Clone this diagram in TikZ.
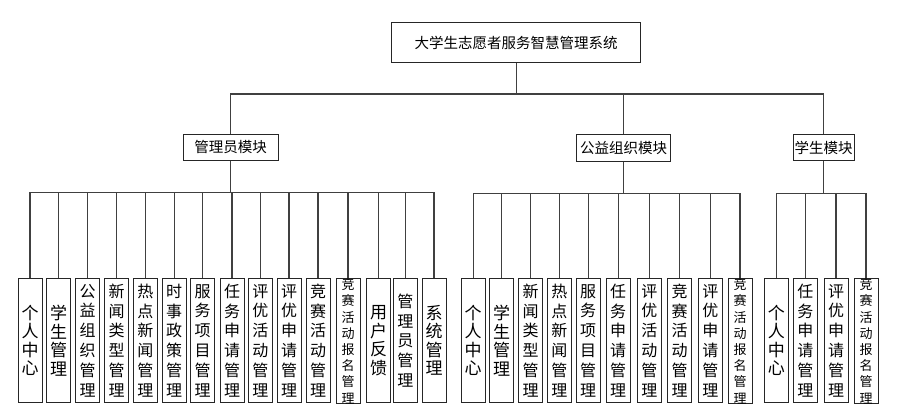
\documentclass[tikz,border=0pt]{standalone}
\usepackage{fontspec}
\setmainfont{Noto Sans CJK SC}
\begin{document}
\begin{tikzpicture}[x=1pt,y=-1pt,
  ln/.style={draw=black!75, line width=1.1pt},
  box/.style={draw=black!85, line width=0.9pt, fill=white, inner sep=0pt, align=center},
  topbox/.style={box, minimum width=249pt, minimum height=40pt, font=\fontsize{14.5}{16}\selectfont},
  modbox/.style={box, minimum height=26.3pt, font=\fontsize{14.5}{16}\selectfont},
  leaf/.style={box, anchor=north, minimum width=24pt, minimum height=123.4pt, font=\fontsize{16}{19.8}\selectfont},
  leaffour/.style={leaf, font=\fontsize{17}{18.5}\selectfont},
  leafsmall/.style={leaf, font=\fontsize{13}{16.2}\selectfont}]
\useasboundingbox (0,0) rectangle (912,415);
\fill[white] (0,0) rectangle (912,415);

% top and modules
\node[topbox] (top) at (516.2,42.7) {大学生志愿者服务智慧管理系统};
\node[modbox, minimum width=95pt] (adm) at (230.7,147.2) {管理员模块};
\node[modbox, minimum width=94pt] (pub) at (623.7,148) {公益组织模块};
\node[modbox, minimum width=60.7pt] (stu) at (823.7,147.7) {学生模块};

\coordinate (busT) at (516.2,94);
\coordinate (busA) at (230.7,192.7);
\coordinate (busP) at (623.7,193.3);
\coordinate (busS) at (823.7,193.3);

% admin leaves
\node[leaffour] (a1) at (30,278.3) {个\\人\\中\\心};
\node[leaffour] (a2) at (58.5,278.3) {学\\生\\管\\理};
\node[leaf] (a3) at (87.5,278.3) {公\\益\\组\\织\\管\\理};
\node[leaf] (a4) at (116.5,278.3) {新\\闻\\类\\型\\管\\理};
\node[leaf] (a5) at (145.3,278.3) {热\\点\\新\\闻\\管\\理};
\node[leaf] (a6) at (174.2,278.3) {时\\事\\政\\策\\管\\理};
\node[leaf] (a7) at (202.7,278.3) {服\\务\\项\\目\\管\\理};
\node[leaf] (a8) at (232,278.3) {任\\务\\申\\请\\管\\理};
\node[leaf] (a9) at (260.3,278.3) {评\\优\\活\\动\\管\\理};
\node[leaf] (a10) at (289,278.3) {评\\优\\申\\请\\管\\理};
\node[leaf] (a11) at (318,278.3) {竞\\赛\\活\\动\\管\\理};
\node[leafsmall] (a12) at (348,278.3) {竞\\赛\\活\\动\\报\\名\\管\\理};
\node[leaffour] (a13) at (378.7,278.3) {用\\户\\反\\馈};
\node[leaf] (a14) at (405.3,278.3) {管\\理\\员\\管\\理};
\node[leaffour] (a15) at (434,278.3) {系\\统\\管\\理};

% public leaves
\node[leaffour] (p1) at (473.2,278.3) {个\\人\\中\\心};
\node[leaffour] (p2) at (501.5,278.3) {学\\生\\管\\理};
\node[leaf] (p3) at (530.5,278.3) {新\\闻\\类\\型\\管\\理};
\node[leaf] (p4) at (559.3,278.3) {热\\点\\新\\闻\\管\\理};
\node[leaf] (p5) at (588.2,278.3) {服\\务\\项\\目\\管\\理};
\node[leaf] (p6) at (618.2,278.3) {任\\务\\申\\请\\管\\理};
\node[leaf] (p7) at (649.3,278.3) {评\\优\\活\\动\\管\\理};
\node[leaf] (p8) at (679.5,278.3) {竞\\赛\\活\\动\\管\\理};
\node[leaf] (p9) at (710.3,278.3) {评\\优\\申\\请\\管\\理};
\node[leafsmall] (p10) at (740,278.3) {竞\\赛\\活\\动\\报\\名\\管\\理};

% student leaves
\node[leaffour] (s1) at (776.3,278.3) {个\\人\\中\\心};
\node[leaf] (s2) at (805.3,278.3) {任\\务\\申\\请\\管\\理};
\node[leaf] (s3) at (836,278.3) {评\\优\\申\\请\\管\\理};
\node[leafsmall] (s4) at (866,278.3) {竞\\赛\\活\\动\\报\\名\\管\\理};

% connectors
\draw[ln] (top.south) -- (busT);
\foreach \m in {adm,pub,stu} \draw[ln] (\m.north) |- (busT);
\draw[ln] (adm.south) -- (busA);
\draw[ln] (pub.south) -- (busP);
\draw[ln] (stu.south) -- (busS);
\foreach \i in {1,...,15} \draw[ln] (a\i.north) |- (busA);
\foreach \i in {1,...,10} \draw[ln] (p\i.north) |- (busP);
\foreach \i in {1,...,4} \draw[ln] (s\i.north) |- (busS);
\end{tikzpicture}
\end{document}
